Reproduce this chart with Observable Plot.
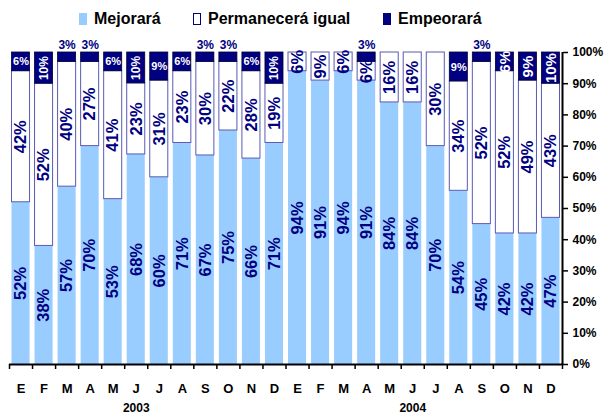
<!DOCTYPE html>
<html><head><meta charset="utf-8">
<script src="https://cdn.jsdelivr.net/npm/d3@7"></script>
<script src="https://cdn.jsdelivr.net/npm/@observablehq/plot@0.6"></script>
<style>
body{margin:0;background:#fff;font-family:Arial,"Liberation Sans",sans-serif;}
#legend{position:relative;height:34px;width:606px;}
.item{position:absolute;top:10px;font-weight:bold;font-size:16px;line-height:18px;display:flex;align-items:center;color:#000;white-space:nowrap;}
.sw{width:8px;height:12px;margin-right:7px;box-sizing:border-box;}
</style></head><body>
<div id="legend"></div><div id="chart"></div>
<script>
const months = ["E","F","M","A","M","J","J","A","S","O","N","D"];
const years = ["2003","2004"];
const seriesNames = ["Mejorará","Permanecerá igual","Empeorará"];
const mejorara    = [52,38,57,70,53,68,60,71,67,75,66,71, 94,91,94,91,84,84,70,54,45,42,42,47];
const permanecera = [42,52,40,27,41,23,31,23,30,22,28,19,  6, 9, 6, 6,16,16,30,34,52,52,49,43];
const empeorara   = [ 6,10, 3, 3, 6,10, 9, 6, 3, 3, 6,10,  0, 0, 0, 3, 0, 0, 0, 9, 3, 6, 9,10];
const yTicks = [0,0.1,0.2,0.3,0.4,0.5,0.6,0.7,0.8,0.9,1];

const BLUE = "#99ccff", NAVY = "#000080", EDGE = "#5a5ab4";
const FONT = "Arial, 'Liberation Sans', sans-serif";

// legend
const legendItems = [
  {name: seriesNames[0], left: 79, bg: BLUE, border: "none"},
  {name: seriesNames[1], left: 193, bg: "#fff", border: "1px solid " + NAVY},
  {name: seriesNames[2], left: 383, bg: NAVY, border: "none"}
];
const leg = document.getElementById("legend");
for (const it of legendItems) {
  const d = document.createElement("div");
  d.className = "item"; d.style.left = it.left + "px";
  const s = document.createElement("span");
  s.className = "sw"; s.style.background = it.bg; s.style.border = it.border;
  d.appendChild(s);
  d.appendChild(document.createTextNode(it.name));
  leg.appendChild(d);
}

// normalized stacking
const n = mejorara.length;
const seriesVals = [mejorara, permanecera, empeorara];
const rows = [];
for (let i = 0; i < n; i++) {
  const tot = mejorara[i] + permanecera[i] + empeorara[i];
  let c = 0;
  seriesVals.forEach((arr, k) => {
    const v = arr[i];
    rows.push({i, k, value: v, y1: c / tot, y2: (c + v) / tot});
    c += v;
  });
}
const ser = k => rows.filter(d => d.k === k && d.value > 0);
const mid = d => (d.y1 + d.y2) / 2;
const cx = d => d.i + 0.5;
const pct = d => d.value + "%";

const dark = ser(2);
const darkAbove = dark.filter(d => d.value <= 3);
const darkIn = dark.filter(d => d.value > 3);
const darkBig = darkIn.filter(d => d.i >= 21);
const darkRot = darkIn.filter(d => d.i < 21 && d.value >= 10);
const darkHor = darkIn.filter(d => d.i < 21 && d.value < 10);

const cats = years.flatMap((y, yi) => months.map((m, mi) => ({idx: yi * 12 + mi, m})));

const chart = Plot.plot({
  width: 606, height: 380,
  marginTop: 18, marginBottom: 50, marginLeft: 9, marginRight: 44,
  style: {fontFamily: FONT, background: "#fff", color: "#000"},
  x: {type: "linear", domain: [0, n], axis: null},
  y: {domain: [0, 1], axis: null},
  marks: [
    Plot.rect(ser(0), {x1: d => d.i, x2: d => d.i + 1, y1: "y1", y2: "y2", fill: BLUE, insetLeft: 2.5, insetRight: 2.5}),
    Plot.rect(ser(1), {x1: d => d.i, x2: d => d.i + 1, y1: "y1", y2: "y2", fill: "#fff", stroke: EDGE, strokeWidth: 1, insetLeft: 2.5, insetRight: 2.5}),
    Plot.rect(dark, {x1: d => d.i, x2: d => d.i + 1, y1: "y1", y2: "y2", fill: NAVY, stroke: "#000030", strokeWidth: 0.8, insetLeft: 2.5, insetRight: 2.5}),
    Plot.text(ser(0).concat(ser(1)), {x: cx, y: mid, text: pct, rotate: -90, fill: NAVY, fontWeight: "bold", fontSize: 16.5}),
    Plot.text(darkHor, {x: cx, y: mid, text: pct, fill: "#fff", fontWeight: "bold", fontSize: 11}),
    Plot.text(darkRot, {x: cx, y: mid, text: pct, rotate: -90, fill: "#fff", fontWeight: "bold", fontSize: 12}),
    Plot.text(darkBig, {x: cx, y: mid, text: pct, rotate: -90, fill: "#fff", fontWeight: "bold", fontSize: 15}),
    Plot.text(darkAbove, {x: cx, y: d => d.y2, dy: -7, text: pct, fill: NAVY, fontWeight: "bold", fontSize: 12}),
    Plot.axisY({anchor: "right", ticks: yTicks, tickFormat: d => Math.round(d * 100) + "%", tickSize: 5, tickPadding: 5, fontSize: 12, fontWeight: "bold", label: null, stroke: "#000", strokeWidth: 1.5}),
    Plot.axisX({ticks: d3.range(0, n + 1), tickFormat: () => "", tickSize: 5, label: null, stroke: "#000", strokeWidth: 1.5}),
    Plot.ruleX([n], {y1: 0, y2: 1, stroke: "#000", strokeWidth: 2}),
    Plot.ruleY([0], {x1: 0, x2: n, stroke: "#000", strokeWidth: 2}),
    Plot.text(cats, {x: d => d.idx + 0.5, y: () => 0, dy: 24, text: "m", fontWeight: "bold", fontSize: 13, fill: "#000"}),
    Plot.text(years, {x: (d, k) => k * 12 + 5.5, y: () => 0, dy: 44, text: d => d, fontWeight: "bold", fontSize: 12, fill: "#000"})
  ]
});
document.getElementById("chart").appendChild(chart);
</script>
</body></html>
